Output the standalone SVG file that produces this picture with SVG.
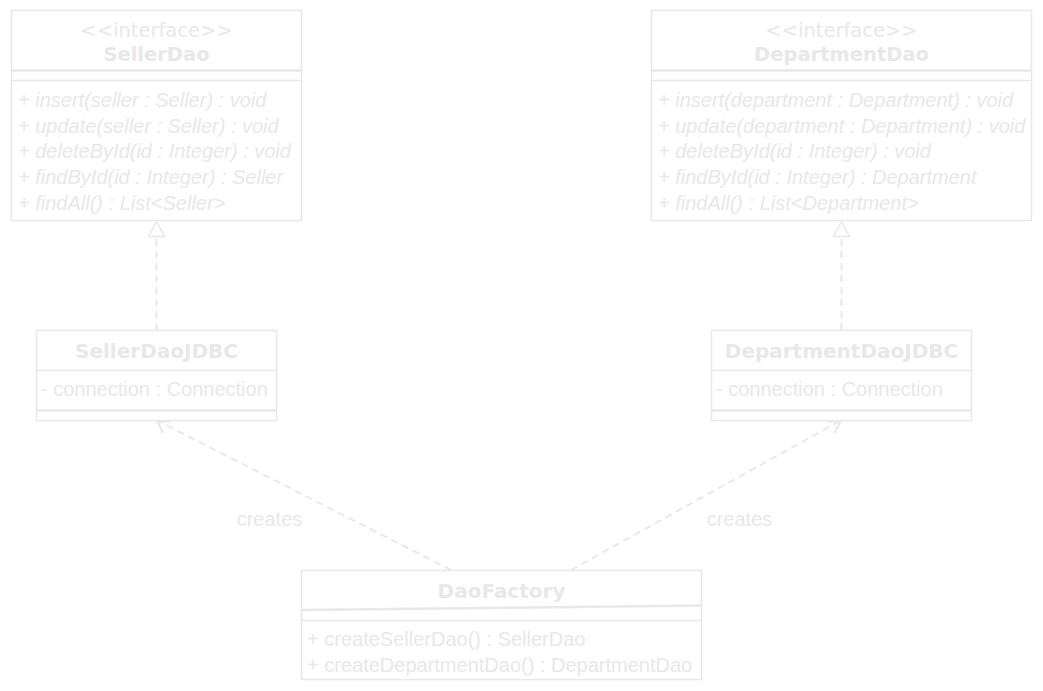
<svg xmlns="http://www.w3.org/2000/svg" width="1043" height="691" viewBox="0 0 1043 691">
  <style>
    .box { fill: #ffffff; stroke: #e8e8e8; stroke-width: 1.5; }
    .sep { stroke: #e8e8e8; stroke-width: 1.5; fill: none; }
    .sep2 { stroke: #e8e8e8; stroke-width: 2.5; fill: none; }
    .stereo { font-family: "DejaVu Sans", Verdana, sans-serif; font-size: 19.5px; fill: #e8e8e8; text-anchor: middle; }
    .title { font-family: "DejaVu Sans", Verdana, sans-serif; font-size: 19.5px; font-weight: bold; fill: #e8e8e8; text-anchor: middle; }
    .cls { font-size: 20px; }
    .member { font-family: "Liberation Sans", Arial, sans-serif; font-size: 20px; fill: #e8e8e8; }
    .abstract { font-style: italic; }
    .label { font-family: "Liberation Sans", Arial, sans-serif; font-size: 20px; fill: #e8e8e8; text-anchor: middle; }
    .dash { stroke: #e8e8e8; stroke-width: 2; fill: none; stroke-dasharray: 7 5; }
    .head { stroke: #e8e8e8; stroke-width: 1.5; fill: #ffffff; }
    .open { stroke: #e8e8e8; stroke-width: 2; fill: none; }
  </style>

  <!-- Interface: SellerDao -->
  <g id="SellerDao">
    <rect class="box" x="11.5" y="10.5" width="290" height="210"/>
    <text class="stereo" x="156.5" y="37">&lt;&lt;interface&gt;&gt;</text>
    <text class="title" x="156.5" y="60.5">SellerDao</text>
    <line class="sep2" x1="11.5" y1="70.5" x2="301.5" y2="70.5"/>
    <line class="sep" x1="11.5" y1="80.5" x2="301.5" y2="80.5"/>
    <text class="member abstract" x="18" y="107">+ insert(seller : Seller) : void</text>
    <text class="member abstract" x="18" y="132.5">+ update(seller : Seller) : void</text>
    <text class="member abstract" x="18" y="158">+ deleteById(id : Integer) : void</text>
    <text class="member abstract" x="18" y="184">+ findById(id : Integer) : Seller</text>
    <text class="member abstract" x="18" y="209.5">+ findAll() : List&lt;Seller&gt;</text>
  </g>

  <!-- Interface: DepartmentDao -->
  <g id="DepartmentDao">
    <rect class="box" x="651.5" y="10.5" width="380" height="210"/>
    <text class="stereo" x="841.5" y="37">&lt;&lt;interface&gt;&gt;</text>
    <text class="title" x="841.5" y="60.5">DepartmentDao</text>
    <line class="sep2" x1="651.5" y1="70.5" x2="1031.5" y2="70.5"/>
    <line class="sep" x1="651.5" y1="80.5" x2="1031.5" y2="80.5"/>
    <text class="member abstract" x="658" y="107">+ insert(department : Department) : void</text>
    <text class="member abstract" x="658" y="132.5">+ update(department : Department) : void</text>
    <text class="member abstract" x="658" y="158">+ deleteById(id : Integer) : void</text>
    <text class="member abstract" x="658" y="184">+ findById(id : Integer) : Department</text>
    <text class="member abstract" x="658" y="209.5">+ findAll() : List&lt;Department&gt;</text>
  </g>

  <!-- Class: SellerDaoJDBC -->
  <g id="SellerDaoJDBC">
    <rect class="box" x="36.5" y="330.5" width="240" height="90"/>
    <text class="title cls" x="156.5" y="357.5">SellerDaoJDBC</text>
    <line class="sep" x1="36.5" y1="370.5" x2="276.5" y2="370.5"/>
    <text class="member" x="41" y="396">- connection : Connection</text>
    <line class="sep2" x1="36.5" y1="410.5" x2="276.5" y2="410.5"/>
  </g>

  <!-- Class: DepartmentDaoJDBC -->
  <g id="DepartmentDaoJDBC">
    <rect class="box" x="711.5" y="330.5" width="260" height="90"/>
    <text class="title cls" x="841.5" y="357.5">DepartmentDaoJDBC</text>
    <line class="sep" x1="711.5" y1="370.5" x2="971.5" y2="370.5"/>
    <text class="member" x="716" y="396">- connection : Connection</text>
    <line class="sep2" x1="711.5" y1="410.5" x2="971.5" y2="410.5"/>
  </g>

  <!-- Class: DaoFactory -->
  <g id="DaoFactory">
    <rect class="box" x="301.5" y="570.5" width="400" height="109"/>
    <text class="title cls" x="501.5" y="597.5">DaoFactory</text>
    <line class="sep2" x1="301.5" y1="610" x2="701.5" y2="605.5"/>
    <line class="sep" x1="301.5" y1="620.5" x2="701.5" y2="620.5"/>
    <text class="member" x="307" y="646">+ createSellerDao() : SellerDao</text>
    <text class="member" x="307" y="671.5">+ createDepartmentDao() : DepartmentDao</text>
  </g>

  <!-- Connectors -->
  <g id="connectors">
    <!-- realization: SellerDaoJDBC implements SellerDao -->
    <line class="dash" x1="156.5" y1="330" x2="156.5" y2="237"/>
    <polygon class="head" points="156.5,221.5 148.5,236.5 164.5,236.5"/>
    <!-- realization: DepartmentDaoJDBC implements DepartmentDao -->
    <line class="dash" x1="841.5" y1="330" x2="841.5" y2="237"/>
    <polygon class="head" points="841.5,221.5 833.5,236.5 849.5,236.5"/>
    <!-- dependency: DaoFactory creates SellerDaoJDBC -->
    <line class="dash" x1="451" y1="570" x2="160" y2="422"/>
    <polyline class="open" points="163,433 157.5,421.5 170.5,421.5"/>
    <text class="label" x="269.5" y="526">creates</text>
    <!-- dependency: DaoFactory creates DepartmentDaoJDBC -->
    <line class="dash" x1="571" y1="570" x2="838" y2="422"/>
    <polyline class="open" points="827,421.5 840.5,421.5 834.5,433"/>
    <text class="label" x="739.5" y="526">creates</text>
  </g>
</svg>
